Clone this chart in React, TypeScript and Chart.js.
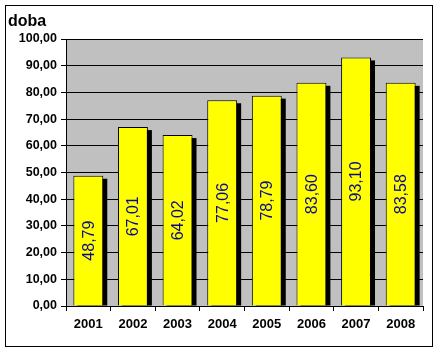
import React, { useEffect, useRef } from "react";
import { Chart, registerables } from "chart.js";

Chart.register(...registerables);

const categories = ["2001", "2002", "2003", "2004", "2005", "2006", "2007", "2008"];
const values = [48.79, 67.01, 64.02, 77.06, 78.79, 83.6, 93.1, 83.58];
const yMin = 0;
const yMax = 100;
const yStep = 10;
const axisTitle = "doba";

const fmt = (v: number) => v.toFixed(2).replace(".", ",");

const decor = {
  id: "decor",
  beforeDraw(chart: any) {
    const { ctx, chartArea, width, height } = chart;
    ctx.save();
    ctx.fillStyle = "#ffffff";
    ctx.fillRect(0, 0, width, height);
    ctx.fillStyle = "#c0c0c0";
    ctx.fillRect(chartArea.left, chartArea.top, chartArea.right - chartArea.left, chartArea.bottom - chartArea.top);
    ctx.strokeStyle = "#000000";
    ctx.lineWidth = 1;
    ctx.strokeRect(5.5, 5.5, 427, 341);
    ctx.fillStyle = "#000000";
    ctx.font = "bold 16px Arial, 'Liberation Sans', sans-serif";
    ctx.textBaseline = "alphabetic";
    ctx.textAlign = "left";
    ctx.fillText(axisTitle, 8, 26);
    ctx.restore();
  },
  beforeDatasetsDraw(chart: any) {
    const { ctx } = chart;
    const meta = chart.getDatasetMeta(0);
    ctx.save();
    ctx.fillStyle = "#000000";
    meta.data.forEach((bar: any) => {
      const p = bar.getProps(["x", "y", "base", "width"], true);
      const left = p.x - p.width / 2 + 4;
      ctx.fillRect(left, p.y + 3, p.width, p.base - p.y - 3);
    });
    ctx.restore();
  },
  afterDatasetsDraw(chart: any) {
    const { ctx } = chart;
    const meta = chart.getDatasetMeta(0);
    ctx.save();
    ctx.fillStyle = "#0a0a8c";
    ctx.font = "16px Arial, 'Liberation Sans', sans-serif";
    ctx.textAlign = "center";
    ctx.textBaseline = "middle";
    meta.data.forEach((bar: any, i: number) => {
      const p = bar.getProps(["x", "y", "base"], true);
      ctx.save();
      ctx.translate(p.x, (p.y + p.base) / 2);
      ctx.rotate(-Math.PI / 2);
      ctx.fillText(fmt(values[i]), 0, 1);
      ctx.restore();
    });
    ctx.restore();
  },
};

export default function App() {
  const ref = useRef<HTMLCanvasElement>(null);
  useEffect(() => {
    if (!ref.current) return;
    const chart = new Chart(ref.current, {
      type: "bar",
      data: {
        labels: categories,
        datasets: [
          {
            data: values,
            backgroundColor: "#ffff00",
            borderColor: "#000000",
            borderWidth: 1,
            categoryPercentage: 1,
            barPercentage: 0.67,
          },
        ],
      },
      options: {
        animation: false,
        responsive: false,
        maintainAspectRatio: false,
        layout: { padding: { left: 0, top: 39, right: 15, bottom: 0 } },
        plugins: { legend: { display: false }, tooltip: { enabled: false }, title: { display: false } },
        scales: {
          x: {
            offset: true,
            grid: { offset: true, drawOnChartArea: false, drawTicks: true, tickLength: 5, color: "#000000", lineWidth: 1 },
            border: { display: true, color: "#000000", width: 1 },
            ticks: { color: "#000000", padding: 6, font: { family: "Arial, 'Liberation Sans', sans-serif", size: 13, weight: "bold" } },
            afterFit: (s: any) => { s.height = 46; },
          },
          y: {
            min: yMin,
            max: yMax,
            grid: { drawOnChartArea: true, drawTicks: true, tickLength: 5, color: "#000000", lineWidth: 1 },
            border: { display: true, color: "#000000", width: 1 },
            ticks: {
              stepSize: yStep,
              color: "#000000",
              padding: 4,
              font: { family: "Arial, 'Liberation Sans', sans-serif", size: 12.5, weight: "bold" },
              callback: (v: any) => fmt(Number(v)),
            },
            afterFit: (s: any) => { s.width = 66; },
          },
        },
      } as any,
      plugins: [decor],
    });
    return () => chart.destroy();
  }, []);
  return (
    <div style={{ position: "fixed", left: 0, top: 0, width: 438, height: 352 }}>
      <canvas ref={ref} width={438} height={352} style={{ width: 438, height: 352, display: "block" }} />
    </div>
  );
}
